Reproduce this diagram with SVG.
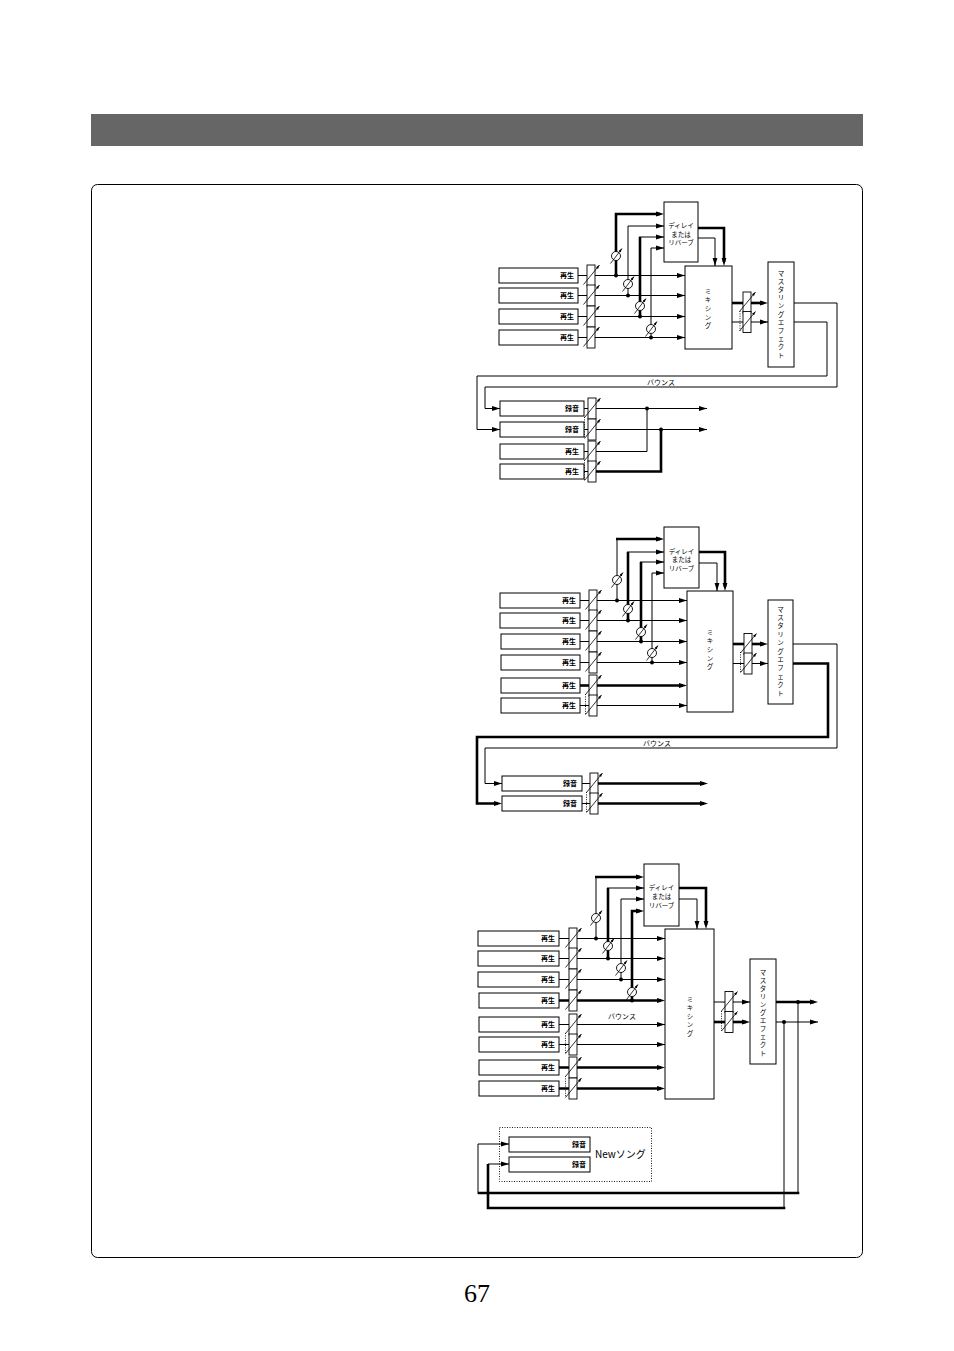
<svg xmlns="http://www.w3.org/2000/svg" width="954" height="1351" viewBox="0 0 954 1351">
<style>
.box{fill:#fff;stroke:#000;stroke-width:1}
.fbox{fill:#fff;stroke:#000;stroke-width:0.9}
.thin{fill:none;stroke:#000;stroke-width:1}
.thick{fill:none;stroke:#000;stroke-width:2.6}
.adj{stroke:#000;stroke-width:0.8}
.link{fill:none;stroke:#000;stroke-width:0.9;stroke-dasharray:1 1.4}
.lbl{font-family:"Noto Sans CJK JP","Noto Sans",sans-serif;font-size:7px;font-weight:bold;text-anchor:end;fill:#000}
.ct{font-family:"Noto Sans CJK JP","Noto Sans",sans-serif;font-size:6.5px;text-anchor:middle;fill:#000}
.dot{fill:#000}
</style>
<defs>
<marker id="a" viewBox="0 0 8 6" refX="8" refY="3" markerWidth="8" markerHeight="6" markerUnits="userSpaceOnUse" orient="auto"><path d="M0,0.6L8,3L0,5.4z" fill="#000"/></marker>
<marker id="at" viewBox="0 0 8 6" refX="4" refY="3" markerWidth="8" markerHeight="6" markerUnits="userSpaceOnUse" orient="auto"><path d="M0,0.6L8,3L0,5.4z" fill="#000"/></marker>
<marker id="s" viewBox="0 0 6 4" refX="6" refY="2" markerWidth="4" markerHeight="3" markerUnits="userSpaceOnUse" orient="auto"><path d="M0,0L6,2L0,4z" fill="#000"/></marker>
<g id="fader"><rect x="-4" y="-10.5" width="8" height="21" class="fbox"/><line x1="-7.5" y1="9" x2="8.5" y2="-10.5" class="adj" marker-end="url(#s)"/></g>
<g id="pan"><circle r="4.5" class="fbox"/><line x1="-5.5" y1="7.5" x2="6" y2="-7.5" class="adj" marker-end="url(#s)"/></g>
</defs>
<rect x="0" y="0" width="954" height="1351" fill="#fff"/>
<g id="header"><rect x="91" y="114" width="772" height="32" fill="#666"/></g>
<g id="frame"><rect x="91.5" y="184.5" width="771" height="1073" rx="6" fill="none" stroke="#000" stroke-width="1"/></g>

<g id="connectors">
<!-- D1 -->
<path class="thin" d="M578 275.5H587M578 295.5H587M578 316.5H587M578 337.5H587"/>
<path class="thin" marker-end="url(#a)" d="M595 275.5H685"/>
<path class="thin" marker-end="url(#a)" d="M595 295.5H685"/>
<path class="thin" marker-end="url(#a)" d="M595 316.5H685"/>
<path class="thin" marker-end="url(#a)" d="M595 337.5H685"/>
<path class="thick" marker-end="url(#at)" d="M616 275.5V214H660"/>
<path class="thin" marker-end="url(#a)" d="M628 295.5V226H664"/>
<path class="thick" d="M640 316.5V237"/>
<path class="thin" marker-end="url(#a)" d="M639 237H664"/>
<path class="thin" marker-end="url(#a)" d="M651 337.5V248H664"/>
<path class="thick" marker-end="url(#at)" d="M698 228H724V262"/>
<path class="thin" marker-end="url(#a)" d="M698 238H715V266"/>
<path class="thick" d="M732 303H743"/>
<path class="thick" marker-end="url(#at)" d="M751 303H764"/>
<path class="thin" d="M732 322H743"/>
<path class="thin" marker-end="url(#a)" d="M751 322H768"/>
<path class="link" d="M740 311V331"/>
<path class="thin" marker-end="url(#a)" d="M794 303H837V387H485V408.5H500"/>
<path class="thin" marker-end="url(#a)" d="M794 322H827V376H477V429.5H500"/>
<path class="thin" d="M584 408.5H588M584 429.5H588M584 451.5H588M584 471.5H588"/>
<path class="thin" marker-end="url(#a)" d="M596 408.5H707"/>
<path class="thin" marker-end="url(#a)" d="M596 429.5H707"/>
<path class="thin" d="M596 451.5H647V408.5"/>
<path class="thick" d="M596 471.5H661V429.5"/>
<path class="link" d="M584.5 417V438M584.5 460V480"/>
<circle class="dot" cx="616" cy="275.5" r="2"/>
<circle class="dot" cx="628" cy="295.5" r="2"/>
<circle class="dot" cx="640" cy="316.5" r="2"/>
<circle class="dot" cx="651" cy="337.5" r="2"/>
<circle class="dot" cx="647" cy="408.5" r="2"/>
<circle class="dot" cx="661" cy="429.5" r="2"/>

<!-- D2 -->
<path class="thin" d="M580 600.5H589M580 620.5H589M580 641.5H589M580 662.5H589M580 705.5H589"/>
<path class="thick" d="M580 685.5H589"/>
<path class="thin" marker-end="url(#a)" d="M597 600.5H687"/>
<path class="thin" marker-end="url(#a)" d="M597 620.5H687"/>
<path class="thin" marker-end="url(#a)" d="M597 641.5H687"/>
<path class="thin" marker-end="url(#a)" d="M597 662.5H687"/>
<path class="thick" marker-end="url(#at)" d="M597 685.5H683"/>
<path class="thin" marker-end="url(#a)" d="M597 705.5H687"/>
<path class="thin" d="M617 600.5V539"/>
<path class="thick" marker-end="url(#at)" d="M616 539H660"/>
<path class="thick" d="M628 620.5V552"/>
<path class="thin" marker-end="url(#a)" d="M627 552H664"/>
<path class="thick" d="M641 641.5V562"/>
<path class="thin" marker-end="url(#a)" d="M640 562H664"/>
<path class="thin" marker-end="url(#a)" d="M652 662.5V573H664"/>
<path class="thick" marker-end="url(#at)" d="M699 552H725V587"/>
<path class="thin" marker-end="url(#a)" d="M699 563H717V591"/>
<path class="thick" d="M733 644H744"/>
<path class="thick" marker-end="url(#at)" d="M752 644H764"/>
<path class="thin" d="M733 663.5H744"/>
<path class="thin" marker-end="url(#a)" d="M752 663.5H768"/>
<path class="link" d="M740.5 652V672"/>
<path class="link" d="M585.5 694V714"/>
<path class="thin" marker-end="url(#a)" d="M793 644H837V748H485V783.5H502"/>
<path class="thick" marker-end="url(#at)" d="M793 663.5H828V737H477V803.5H498"/>
<path class="thin" d="M582 783.5H590M582 803.5H590"/>
<path class="thick" marker-end="url(#at)" d="M598 783.5H704"/>
<path class="thick" marker-end="url(#at)" d="M598 803.5H704"/>
<path class="link" d="M586.5 792V812"/>
<circle class="dot" cx="617" cy="600.5" r="2"/>
<circle class="dot" cx="628" cy="620.5" r="2"/>
<circle class="dot" cx="641" cy="641.5" r="2"/>
<circle class="dot" cx="652" cy="662.5" r="2"/>

<!-- D3 -->
<path class="thin" d="M559 938.5H569M559 958.5H569M559 979.5H569M559 1024.5H569M559 1044.5H569"/>
<path class="thick" d="M559 1000.5H569M559 1067.5H569M559 1088.5H569"/>
<path class="thin" marker-end="url(#a)" d="M577 938.5H665"/>
<path class="thin" marker-end="url(#a)" d="M577 958.5H665"/>
<path class="thin" marker-end="url(#a)" d="M577 979.5H665"/>
<path class="thick" marker-end="url(#at)" d="M577 1000.5H661"/>
<path class="thin" marker-end="url(#a)" d="M577 1024.5H665"/>
<path class="thin" marker-end="url(#a)" d="M577 1044.5H665"/>
<path class="thick" marker-end="url(#at)" d="M577 1067.5H661"/>
<path class="thick" marker-end="url(#at)" d="M577 1088.5H661"/>
<path class="thin" d="M596 938.5V877"/>
<path class="thick" marker-end="url(#at)" d="M595 877H640"/>
<path class="thick" d="M608 958.5V888"/>
<path class="thin" marker-end="url(#a)" d="M607 888H644"/>
<path class="thin" marker-end="url(#a)" d="M621 979.5V899H644"/>
<path class="thick" marker-end="url(#at)" d="M632 1000.5V911H640"/>
<path class="thick" marker-end="url(#at)" d="M679 888H706V925"/>
<path class="thin" marker-end="url(#a)" d="M679 899H697V929"/>
<path class="thin" d="M714 1002H725"/>
<path class="thin" marker-end="url(#a)" d="M733 1002H750"/>
<path class="thick" d="M714 1022H725"/>
<path class="thick" marker-end="url(#at)" d="M733 1022H746"/>
<path class="link" d="M721.5 1011V1031"/>
<path class="link" d="M565.5 1033V1054M565.5 1076V1097"/>
<path class="thick" marker-end="url(#at)" d="M776 1002H814"/>
<path class="thin" marker-end="url(#a)" d="M776 1022H818"/>
<path class="thin" d="M798 1002V1193"/>
<path class="thick" d="M799.3 1193H478"/>
<path class="thin" marker-end="url(#a)" d="M478 1194V1144H509"/>
<path class="thin" d="M784 1022V1208"/>
<path class="thick" d="M785.3 1208H488V1164"/>
<path class="thin" marker-end="url(#a)" d="M488 1164H509"/>
<circle class="dot" cx="596" cy="938.5" r="2"/>
<circle class="dot" cx="608" cy="958.5" r="2"/>
<circle class="dot" cx="621" cy="979.5" r="2"/>
<circle class="dot" cx="632" cy="1000.5" r="2"/>
<circle class="dot" cx="798" cy="1002" r="2"/>
<circle class="dot" cx="784" cy="1022" r="2"/>
</g>

<!-- ===== Diagram 1 nodes ===== -->
<g id="d1-t1"><rect class="box" x="499" y="268" width="79" height="15"/><text class="lbl" x="574" y="278">再生</text></g>
<g id="d1-t2"><rect class="box" x="499" y="288" width="79" height="15"/><text class="lbl" x="574" y="298">再生</text></g>
<g id="d1-t3"><rect class="box" x="499" y="309" width="79" height="15"/><text class="lbl" x="574" y="319">再生</text></g>
<g id="d1-t4"><rect class="box" x="499" y="330" width="79" height="15"/><text class="lbl" x="574" y="340">再生</text></g>
<g id="d1-faders"><use href="#fader" x="591" y="275.5"/><use href="#fader" x="591" y="295.5"/><use href="#fader" x="591" y="316.5"/><use href="#fader" x="591" y="337.5"/><use href="#fader" x="747" y="302.5"/><use href="#fader" x="747" y="322"/><use href="#fader" x="592" y="408.5"/><use href="#fader" x="592" y="429.5"/><use href="#fader" x="592" y="451.5"/><use href="#fader" x="592" y="471.5"/></g>
<g id="d1-pans"><use href="#pan" x="616" y="256"/><use href="#pan" x="628" y="284"/><use href="#pan" x="640" y="306"/><use href="#pan" x="651" y="329"/></g>
<g id="d1-delay"><rect class="box" x="664" y="202" width="34" height="60"/><text class="ct" x="681" y="228">ディレイ</text><text class="ct" x="681" y="236.5">または</text><text class="ct" x="681" y="245">リバーブ</text></g>
<g id="d1-mix"><rect class="box" x="685" y="266" width="47" height="83"/><text class="ct" x="708" y="293.5"><tspan x="708" dy="0">ミ</tspan><tspan x="708" dy="8.7">キ</tspan><tspan x="708" dy="8.7">シ</tspan><tspan x="708" dy="8.7">ン</tspan><tspan x="708" dy="8.7">グ</tspan></text></g>
<g id="d1-master"><rect class="box" x="768" y="262" width="26" height="105"/><text class="ct" x="781" y="275.5"><tspan x="781" dy="0">マ</tspan><tspan x="781" dy="8.2">ス</tspan><tspan x="781" dy="8.2">タ</tspan><tspan x="781" dy="8.2">リ</tspan><tspan x="781" dy="8.2">ン</tspan><tspan x="781" dy="8.2">グ</tspan><tspan x="781" dy="8.2">エ</tspan><tspan x="781" dy="8.2">フ</tspan><tspan x="781" dy="8.2">ェ</tspan><tspan x="781" dy="8.2">ク</tspan><tspan x="781" dy="8.2">ト</tspan></text></g>
<g id="d1-bounce"><text class="ct" x="661" y="384.5" style="font-size:7px">バウンス</text></g>
<g id="d1-r1"><rect class="box" x="500" y="401" width="84" height="15"/><text class="lbl" x="579" y="411">録音</text></g>
<g id="d1-r2"><rect class="box" x="500" y="422" width="84" height="15"/><text class="lbl" x="579" y="432">録音</text></g>
<g id="d1-p1"><rect class="box" x="500" y="444" width="84" height="15"/><text class="lbl" x="579" y="454">再生</text></g>
<g id="d1-p2"><rect class="box" x="500" y="464" width="84" height="15"/><text class="lbl" x="579" y="474">再生</text></g>

<!-- ===== Diagram 2 nodes ===== -->
<g id="d2-t1"><rect class="box" x="500" y="593" width="80" height="15"/><text class="lbl" x="576" y="603">再生</text></g>
<g id="d2-t2"><rect class="box" x="500" y="613" width="80" height="15"/><text class="lbl" x="576" y="623">再生</text></g>
<g id="d2-t3"><rect class="box" x="501" y="634" width="79" height="15"/><text class="lbl" x="576" y="644">再生</text></g>
<g id="d2-t4"><rect class="box" x="501" y="655" width="79" height="15"/><text class="lbl" x="576" y="665">再生</text></g>
<g id="d2-t5"><rect class="box" x="501" y="678" width="79" height="15"/><text class="lbl" x="576" y="688">再生</text></g>
<g id="d2-t6"><rect class="box" x="501" y="698" width="79" height="15"/><text class="lbl" x="576" y="708">再生</text></g>
<g id="d2-faders"><use href="#fader" x="593" y="600.5"/><use href="#fader" x="593" y="620.5"/><use href="#fader" x="593" y="641.5"/><use href="#fader" x="593" y="662.5"/><use href="#fader" x="593" y="685.5"/><use href="#fader" x="593" y="705.5"/><use href="#fader" x="748" y="644"/><use href="#fader" x="748" y="663.5"/><use href="#fader" x="594" y="783.5"/><use href="#fader" x="594" y="803.5"/></g>
<g id="d2-pans"><use href="#pan" x="617" y="580"/><use href="#pan" x="628" y="609"/><use href="#pan" x="641" y="632"/><use href="#pan" x="652" y="653"/></g>
<g id="d2-delay"><rect class="box" x="664" y="527" width="35" height="61"/><text class="ct" x="681.5" y="553.5">ディレイ</text><text class="ct" x="681.5" y="562">または</text><text class="ct" x="681.5" y="570.5">リバーブ</text></g>
<g id="d2-mix"><rect class="box" x="687" y="591" width="46" height="121"/><text class="ct" x="710" y="634.5"><tspan x="710" dy="0">ミ</tspan><tspan x="710" dy="8.7">キ</tspan><tspan x="710" dy="8.7">シ</tspan><tspan x="710" dy="8.7">ン</tspan><tspan x="710" dy="8.7">グ</tspan></text></g>
<g id="d2-master"><rect class="box" x="768" y="600" width="25" height="104"/><text class="ct" x="780.5" y="611.5"><tspan x="780.5" dy="0">マ</tspan><tspan x="780.5" dy="8.4">ス</tspan><tspan x="780.5" dy="8.4">タ</tspan><tspan x="780.5" dy="8.4">リ</tspan><tspan x="780.5" dy="8.4">ン</tspan><tspan x="780.5" dy="8.4">グ</tspan><tspan x="780.5" dy="8.4">エ</tspan><tspan x="780.5" dy="8.4">フ</tspan><tspan x="780.5" dy="8.4">ェ</tspan><tspan x="780.5" dy="8.4">ク</tspan><tspan x="780.5" dy="8.4">ト</tspan></text></g>
<g id="d2-bounce"><text class="ct" x="657" y="745.5" style="font-size:7px">バウンス</text></g>
<g id="d2-r1"><rect class="box" x="502" y="776" width="80" height="15"/><text class="lbl" x="577" y="786">録音</text></g>
<g id="d2-r2"><rect class="box" x="502" y="796" width="80" height="15"/><text class="lbl" x="577" y="806">録音</text></g>

<!-- ===== Diagram 3 nodes ===== -->
<g id="d3-t1"><rect class="box" x="478" y="931" width="81" height="15"/><text class="lbl" x="555" y="941">再生</text></g>
<g id="d3-t2"><rect class="box" x="478" y="951" width="81" height="15"/><text class="lbl" x="555" y="961">再生</text></g>
<g id="d3-t3"><rect class="box" x="478" y="972" width="81" height="15"/><text class="lbl" x="555" y="982">再生</text></g>
<g id="d3-t4"><rect class="box" x="479" y="993" width="80" height="15"/><text class="lbl" x="555" y="1003">再生</text></g>
<g id="d3-t5"><rect class="box" x="479" y="1017" width="80" height="15"/><text class="lbl" x="555" y="1027">再生</text></g>
<g id="d3-t6"><rect class="box" x="479" y="1037" width="80" height="15"/><text class="lbl" x="555" y="1047">再生</text></g>
<g id="d3-t7"><rect class="box" x="479" y="1060" width="80" height="15"/><text class="lbl" x="555" y="1070">再生</text></g>
<g id="d3-t8"><rect class="box" x="479" y="1081" width="80" height="15"/><text class="lbl" x="555" y="1091">再生</text></g>
<g id="d3-faders"><use href="#fader" x="573" y="938.5"/><use href="#fader" x="573" y="958.5"/><use href="#fader" x="573" y="979.5"/><use href="#fader" x="573" y="1000.5"/><use href="#fader" x="573" y="1024.5"/><use href="#fader" x="573" y="1044.5"/><use href="#fader" x="573" y="1067.5"/><use href="#fader" x="573" y="1088.5"/><use href="#fader" x="729" y="1002"/><use href="#fader" x="729" y="1022"/></g>
<g id="d3-pans"><use href="#pan" x="596" y="918"/><use href="#pan" x="608" y="946"/><use href="#pan" x="621" y="968"/><use href="#pan" x="632" y="992"/></g>
<g id="d3-delay"><rect class="box" x="644" y="864" width="35" height="62"/><text class="ct" x="661.5" y="889.5">ディレイ</text><text class="ct" x="661.5" y="898.5">または</text><text class="ct" x="661.5" y="907.5">リバーブ</text></g>
<g id="d3-mix"><rect class="box" x="665" y="929" width="49" height="170"/><text class="ct" x="690" y="1001.5"><tspan x="690" dy="0">ミ</tspan><tspan x="690" dy="8.5">キ</tspan><tspan x="690" dy="8.5">シ</tspan><tspan x="690" dy="8.5">ン</tspan><tspan x="690" dy="8.5">グ</tspan></text></g>
<g id="d3-master"><rect class="box" x="750" y="959" width="26" height="105"/><text class="ct" x="763" y="974.5"><tspan x="763" dy="0">マ</tspan><tspan x="763" dy="8.1">ス</tspan><tspan x="763" dy="8.1">タ</tspan><tspan x="763" dy="8.1">リ</tspan><tspan x="763" dy="8.1">ン</tspan><tspan x="763" dy="8.1">グ</tspan><tspan x="763" dy="8.1">エ</tspan><tspan x="763" dy="8.1">フ</tspan><tspan x="763" dy="8.1">ェ</tspan><tspan x="763" dy="8.1">ク</tspan><tspan x="763" dy="8.1">ト</tspan></text></g>
<g id="d3-bounce"><text class="ct" x="622" y="1018.5" style="font-size:7px">バウンス</text></g>
<g id="d3-newsong"><rect x="499.5" y="1127.5" width="152" height="54" fill="none" stroke="#000" stroke-width="0.9" stroke-dasharray="1 1.5"/><text x="595" y="1158" style="font-family:'Noto Sans CJK JP','Noto Sans',sans-serif;font-size:10px">Newソング</text></g>
<g id="d3-r1"><rect class="box" x="509" y="1137" width="81" height="15"/><text class="lbl" x="586" y="1147">録音</text></g>
<g id="d3-r2"><rect class="box" x="509" y="1157" width="81" height="15"/><text class="lbl" x="586" y="1167">録音</text></g>

<g id="page-number"><text x="477" y="1302" text-anchor="middle" style="font-family:'Liberation Serif',serif;font-size:26px">67</text></g>
</svg>
